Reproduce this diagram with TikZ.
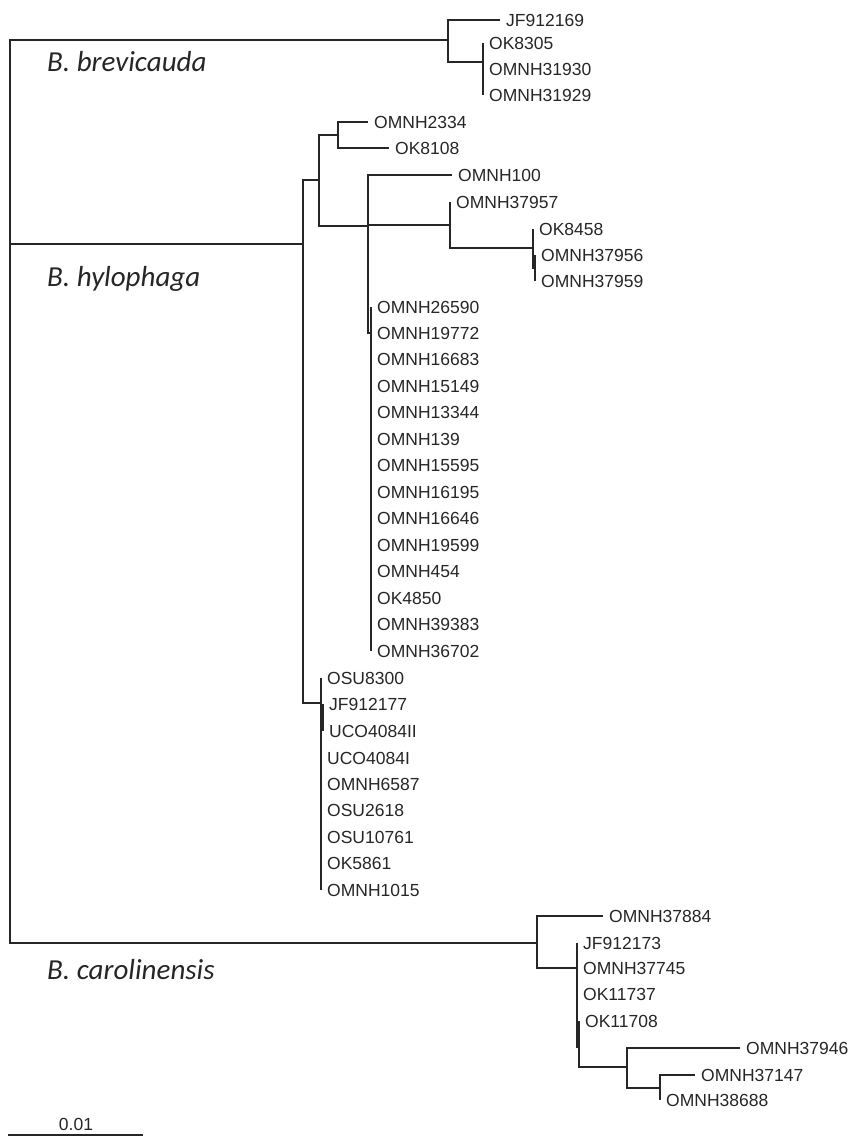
\documentclass[tikz,border=0pt]{standalone}
\usepackage{fontspec}
\setmainfont{Liberation Sans}
\newfontfamily\spfont{Carlito}
\tikzstyle{taxon} = [anchor=west, inner xsep=6pt, inner ysep=0pt, font=\fontsize{17.5}{20}\selectfont, text=black!85]
\tikzstyle{species} = [anchor=base west, inner sep=0pt, font=\spfont\itshape\fontsize{29}{34}\selectfont, text=black!85]
\tikzstyle{branch} = [line width=1.3pt, draw=black!85]

\begin{document}
\begin{tikzpicture}[x=1pt, y=-1pt]
\useasboundingbox (0,0) rectangle (851,1137);

        % Nodos internos
        \coordinate (root) at (10,490);
        \coordinate (brev) at (448,40);
        \coordinate (bsub) at (483,62);
        \coordinate (hylo) at (303,244);
        \coordinate (h1) at (319,180);
        \coordinate (hA) at (338,135);
        \coordinate (hN) at (368,226);
        \coordinate (hC) at (450,225);
        \coordinate (hD) at (533,248);
        \coordinate (hD2) at (535,268);
        \coordinate (hP) at (371,333);
        \coordinate (h2) at (321,703);
        \coordinate (h3) at (323,717);
        \coordinate (caro) at (537,943);
        \coordinate (cE) at (577,968);
        \coordinate (cE2) at (579,1047);
        \coordinate (cF) at (627,1067);
        \coordinate (cG) at (660,1088);

        % Especies
        \node (brevicauda) [species] at (47,72) {B. brevicauda};
        \node (hylophaga) [species] at (47,286) {B. hylophaga};
        \node (carolinensis) [species] at (47,979) {B. carolinensis};

        % B. brevicauda
        \node (t-JF912169) [taxon] at (500,20) {JF912169};
        \node (t-OK8305) [taxon] at (483,43) {OK8305};
        \node (t-OMNH31930) [taxon] at (483,69) {OMNH31930};
        \node (t-OMNH31929) [taxon] at (483,95) {OMNH31929};

        % B. hylophaga
        \node (t-OMNH2334) [taxon] at (368,122) {OMNH2334};
        \node (t-OK8108) [taxon] at (389,148) {OK8108};
        \node (t-OMNH100) [taxon] at (452,175) {OMNH100};
        \node (t-OMNH37957) [taxon] at (450,202) {OMNH37957};
        \node (t-OK8458) [taxon] at (533,229) {OK8458};
        \node (t-OMNH37956) [taxon] at (535,255) {OMNH37956};
        \node (t-OMNH37959) [taxon] at (535,281) {OMNH37959};
        \foreach \name [count=\i] in {OMNH26590,OMNH19772,OMNH16683,OMNH15149,OMNH13344,OMNH139,OMNH15595,OMNH16195,OMNH16646,OMNH19599,OMNH454,OK4850,OMNH39383,OMNH36702}
            \node (t-\name) [taxon] at (371,{307+26.46*(\i-1)}) {\name};
        \node (t-OSU8300) [taxon] at (321,678) {OSU8300};
        \node (t-JF912177) [taxon] at (323,704) {JF912177};
        \node (t-UCO4084II) [taxon] at (323,731) {UCO4084II};
        \foreach \name [count=\i] in {UCO4084I,OMNH6587,OSU2618,OSU10761,OK5861,OMNH1015}
            \node (t-\name) [taxon] at (321,{758+26.4*(\i-1)}) {\name};

        % B. carolinensis
        \node (t-OMNH37884) [taxon] at (603,916) {OMNH37884};
        \node (t-JF912173) [taxon] at (577,943) {JF912173};
        \node (t-OMNH37745) [taxon] at (577,968) {OMNH37745};
        \node (t-OK11737) [taxon] at (577,994) {OK11737};
        \node (t-OK11708) [taxon] at (579,1021) {OK11708};
        \node (t-OMNH37946) [taxon] at (740,1048) {OMNH37946};
        \node (t-OMNH37147) [taxon] at (695,1075) {OMNH37147};
        \node (t-OMNH38688) [taxon] at (660,1100) {OMNH38688};

        % Escala
        \node (scale) [taxon, anchor=center, inner xsep=0pt] at (76,1124) {0.01};
        \coordinate (sb-l) at (8,1135);
        \coordinate (sb-r) at (143,1135);

        % Ramas
        \draw [branch] (root) |- (brev);
        \draw [branch] (root) |- (hylo);
        \draw [branch] (root) |- (caro);

        \draw [branch] (brev) |- (t-JF912169.west);
        \draw [branch] (brev) |- (bsub);
        \draw [branch] (bsub) |- (t-OK8305.west);
        \draw [branch] (bsub) |- (t-OMNH31930.west);
        \draw [branch] (bsub) |- (t-OMNH31929.west);

        \draw [branch] (hylo) |- (h1);
        \draw [branch] (hylo) |- (h2);
        \draw [branch] (h1) |- (hA);
        \draw [branch] (h1) |- (hN);
        \draw [branch] (hA) |- (t-OMNH2334.west);
        \draw [branch] (hA) |- (t-OK8108.west);
        \draw [branch] (hN) |- (t-OMNH100.west);
        \draw [branch] (hN) |- (hC);
        \draw [branch] (hN) |- (hP);
        \draw [branch] (hC) |- (t-OMNH37957.west);
        \draw [branch] (hC) |- (hD);
        \draw [branch] (hD) |- (t-OK8458.west);
        \draw [branch] (hD) |- (hD2);
        \draw [branch] (hD2) |- (t-OMNH37956.west);
        \draw [branch] (hD2) |- (t-OMNH37959.west);
        \foreach \name in {OMNH26590,OMNH36702}
            \draw [branch] (hP) |- (t-\name.west);
        \foreach \name in {OSU8300,OMNH1015}
            \draw [branch] (h2) |- (t-\name.west);
        \draw [branch] (h2) |- (h3);
        \draw [branch] (h3) |- (t-JF912177.west);
        \draw [branch] (h3) |- (t-UCO4084II.west);

        \draw [branch] (caro) |- (t-OMNH37884.west);
        \draw [branch] (caro) |- (cE);
        \draw [branch] (cE) |- (t-JF912173.west);
        \draw [branch] (cE) |- (cE2);
        \draw [branch] (cE2) |- (t-OK11708.west);
        \draw [branch] (cE2) |- (cF);
        \draw [branch] (cF) |- (t-OMNH37946.west);
        \draw [branch] (cF) |- (cG);
        \draw [branch] (cG) |- (t-OMNH37147.west);
        \draw [branch] (cG) |- (t-OMNH38688.west);

        \draw [branch] (sb-l) -- (sb-r);

\end{tikzpicture}
\end{document}
